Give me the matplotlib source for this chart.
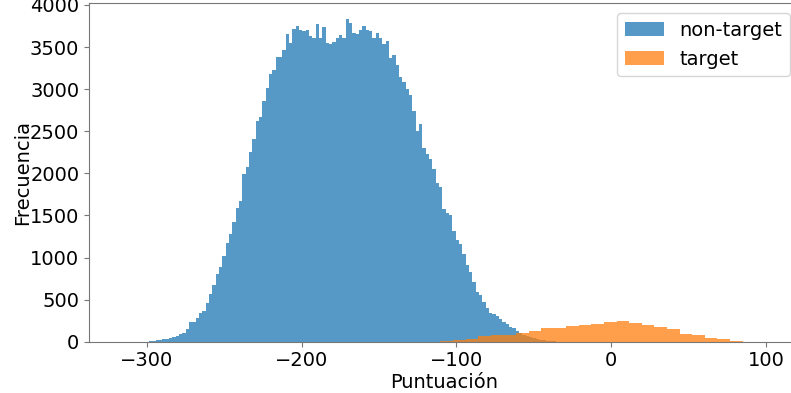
import numpy as np
import matplotlib
matplotlib.use("Agg")
import matplotlib.pyplot as plt

# bin ranges (scores)
nontarget_lo, nontarget_hi = -298.6, -35.9
target_lo, target_hi = -110.3, 84.9

# counts per bin, left to right
nontarget_counts = [
    8, 12, 16, 20, 28, 36, 40, 55, 63, 87,
    107, 150, 233, 233, 285, 344, 364, 455, 562, 676,
    807, 882, 1013, 1167, 1278, 1420, 1594, 1673, 1994, 2073,
    2251, 2409, 2627, 2674, 2864, 3011, 3177, 3224, 3378, 3378,
    3465, 3659, 3545, 3719, 3750, 3703, 3691, 3703, 3632, 3604,
    3778, 3604, 3734, 3545, 3541, 3560, 3604, 3640, 3612, 3829,
    3790, 3671, 3651, 3703, 3750, 3703, 3695, 3604, 3663, 3604,
    3533, 3568, 3367, 3402, 3287, 3141, 3090, 2999, 2931, 2742,
    2508, 2587, 2306, 2231, 2168, 2053, 1891, 1843, 1574, 1527,
    1503, 1317, 1203, 1163, 1040, 906, 823, 712, 585, 558,
    475, 404, 340, 330, 300, 270, 230, 205, 180, 160,
    130, 100, 82, 70, 55, 42, 32, 24, 16, 10,
    6, 3,
]
target_counts = [
    12, 24, 36, 63, 79, 83, 103, 123, 158, 158,
    182, 198, 210, 233, 241, 222, 202, 174, 150, 95,
    79, 44, 32, 12,
]

nt_edges = np.linspace(nontarget_lo, nontarget_hi, len(nontarget_counts) + 1)
t_edges = np.linspace(target_lo, target_hi, len(target_counts) + 1)

fig = plt.figure(figsize=(7.91, 3.93), dpi=100)
ax = fig.add_axes([89 / 791, 51.3 / 393, 711 / 791, 338.4 / 393])

ax.hist(nt_edges[:-1], bins=nt_edges, weights=nontarget_counts, alpha=0.75, label="non-target")
ax.hist(t_edges[:-1], bins=t_edges, weights=target_counts, alpha=0.75, label="target")

ax.set_xlim(-337.3, 122)
ax.set_ylim(0, 4020)
ax.set_xticks([-300, -200, -100, 0, 100])
ax.set_yticks(np.arange(0, 4001, 500))
ax.tick_params(labelsize=14, color="#777777")
for s in ax.spines.values():
    s.set_color("#777777")
ax.set_xlabel("Puntuación", fontsize=14, labelpad=1.5)
ax.set_ylabel("Frecuencia", fontsize=14)
ax.yaxis.set_label_coords(-0.08, 0.5)
ax.legend(loc="upper right", fontsize=14)

fig.savefig("out.png", dpi=100)
